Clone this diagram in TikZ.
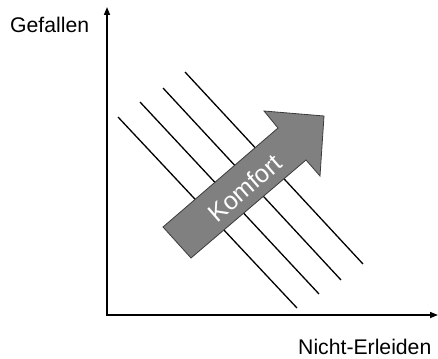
\documentclass[tikz,border=0pt]{standalone}
\usepackage{fontspec}
\setmainfont{Liberation Sans}
\usetikzlibrary{arrows.meta}
\begin{document}
\begin{tikzpicture}[x=1pt,y=-1pt,
  axis/.style={line width=1.6pt,-{Triangle[width=6pt,length=8pt]}},
  iso/.style={line width=1.3pt,black},
  lbl/.style={font=\fontsize{21.2}{24}\selectfont,anchor=base west,inner sep=0pt},
  bigarrow/.style={fill={rgb,255:red,128;green,128;blue,128},draw={rgb,255:red,60;green,60;blue,60},line width=0.8pt,line join=miter}]
\useasboundingbox (0,0) rectangle (438,358);
\coordinate (o) at (107,315);
\coordinate (ytop) at (107,7);
\coordinate (xend) at (438,315);
\draw[axis] (o) -- (ytop);
\draw[axis] ([xshift=-0.8pt]o) -- (xend);
\node[lbl] (gef) at (10,33) {Gefallen};
\node[lbl] (ner) at (298,354) {Nicht-Erleiden};
\coordinate (a1) at (118,117); \coordinate (b1) at (297,308);
\coordinate (a2) at (140,102); \coordinate (b2) at (319,294);
\coordinate (a3) at (163,88);  \coordinate (b3) at (341,280);
\coordinate (a4) at (185,72);  \coordinate (b4) at (363,264);
\draw[iso] (a1) -- (b1);
\draw[iso] (a2) -- (b2);
\draw[iso] (a3) -- (b3);
\draw[iso] (a4) -- (b4);
\draw[bigarrow] (163,227) -- (278,128) -- (264,111) -- (324,116) -- (320,176) -- (306,160) -- (191,258) -- cycle;
\node[font=\fontsize{25}{28}\selectfont,text=white,rotate=41,inner sep=0pt] (komf) at (245,188) {Komfort};
\end{tikzpicture}
\end{document}
